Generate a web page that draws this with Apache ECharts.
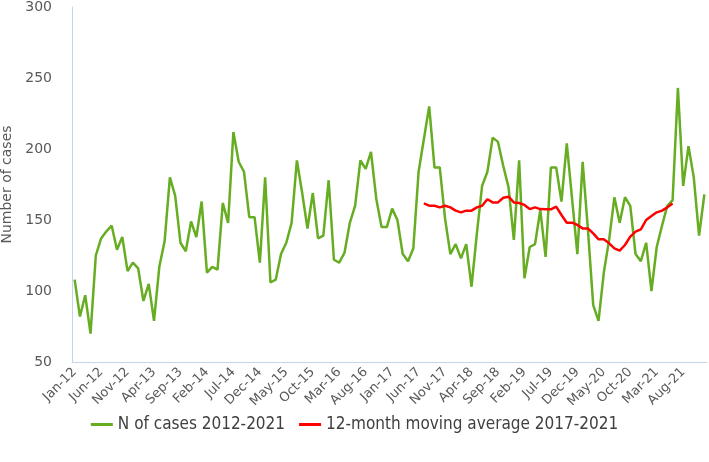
<!DOCTYPE html>
<html>
<head>
<meta charset="utf-8">
<script src="https://cdn.jsdelivr.net/npm/echarts@6/dist/echarts.min.js"></script>
<style>
html,body{margin:0;padding:0;background:#fff;}
#chart{width:709px;height:462px;}
</style>
</head>
<body>
<div id="chart"></div>
<script>
const monthNames = ["Jan","Feb","Mar","Apr","May","Jun","Jul","Aug","Sep","Oct","Nov","Dec"];
const years = ["12","13","14","15","16","17","18","19","20","21"];

const casesSeries = [
  108, 82, 97, 70, 125, 137, 142, 146, 129, 138, 114, 120,
  116, 93, 105, 79, 117, 135, 180, 167, 134, 128, 149, 138,
  163, 113, 117, 115, 162, 148, 212, 191, 184, 152, 152, 120,
  180, 106, 108, 126, 134, 148, 192, 169, 144, 169, 137, 139,
  178, 122, 120, 127, 148, 160, 192, 186, 198, 165, 145, 145,
  158, 150, 126, 121, 130, 184, 207, 230, 187, 187, 151, 126,
  133, 123, 133, 103, 140, 174, 184, 208, 205, 188, 173, 136,
  192, 109, 131, 133, 157, 124, 187, 187, 163, 204, 165, 126,
  191, 143, 90, 79, 113, 136, 166, 148, 166, 160, 126, 121,
  134, 100, 131, 146, 160, 164, 243, 174, 202, 180, 139, 168
];

// 12-month moving average, Jul-17 .. Jun-21
const movingAvgStart = 66;
const movingAvg = [
  161.7, 160.1, 160, 158.9, 160, 158.9, 156.6, 155.4, 156.6, 156.6, 158.9, 160,
  164.6, 162.4, 162.4, 165.7, 166.4, 162.4, 162, 160.6, 157.7, 158.9, 157.7, 157.5,
  157.5, 159.4, 153.5, 148.1, 148.1, 146.5, 144.1, 144, 140.6, 136.4, 136.4, 133.6,
  130, 128.4, 132.4, 138.3, 141.8, 143.4, 150, 152.8, 155.4, 156.6, 158.9, 161.7
];

const yTicks = [50, 100, 150, 200, 250, 300];

const categories = [];
years.forEach(y => monthNames.forEach(m => categories.push(m + "-" + y)));

const avgData = categories.map((c, i) => {
  const k = i - movingAvgStart;
  return (k >= 0 && k < movingAvg.length) ? movingAvg[k] : null;
});

const chart = echarts.init(document.getElementById('chart'), null, {renderer: 'canvas'});
const grey = '#595959';
const axisBlue = '#c5d3ec';
chart.setOption({
  animation: false,
  textStyle: {fontFamily: 'DejaVu Sans'},
  grid: {left: 72, right: 2, top: 7, bottom: 100, containLabel: false, outerBoundsMode: 'none'},
  legend: {
    bottom: 24,
    left: 'center',
    icon: 'rect',
    itemWidth: 22,
    itemHeight: 3,
    itemGap: 14,
    textStyle: {fontFamily: 'DejaVu Sans Condensed', fontSize: 17, color: '#404040'},
    data: ['N of cases 2012-2021', '12-month moving average 2017-2021']
  },
  xAxis: {
    type: 'category',
    data: categories,
    boundaryGap: true,
    axisLine: {show: true, lineStyle: {color: axisBlue, width: 1}},
    axisTick: {show: false},
    axisLabel: {interval: 4, rotate: 45, color: grey, fontSize: 13, margin: 8}
  },
  yAxis: {
    type: 'value',
    min: yTicks[0],
    max: yTicks[yTicks.length - 1],
    interval: 50,
    name: 'Number of cases',
    nameLocation: 'middle',
    nameGap: 56,
    nameTextStyle: {color: grey, fontSize: 14},
    axisLine: {show: true, lineStyle: {color: axisBlue, width: 1}},
    axisTick: {show: false},
    splitLine: {show: false},
    axisLabel: {color: grey, fontSize: 14, margin: 20}
  },
  series: [
    {
      name: 'N of cases 2012-2021',
      type: 'line',
      data: casesSeries,
      symbol: 'none',
      lineStyle: {color: '#66ad22', width: 2.5},
      itemStyle: {color: '#66ad22'}
    },
    {
      name: '12-month moving average 2017-2021',
      type: 'line',
      data: avgData,
      symbol: 'none',
      connectNulls: false,
      lineStyle: {color: '#ff0000', width: 2.5},
      itemStyle: {color: '#ff0000'}
    }
  ]
});
</script>
</body>
</html>
